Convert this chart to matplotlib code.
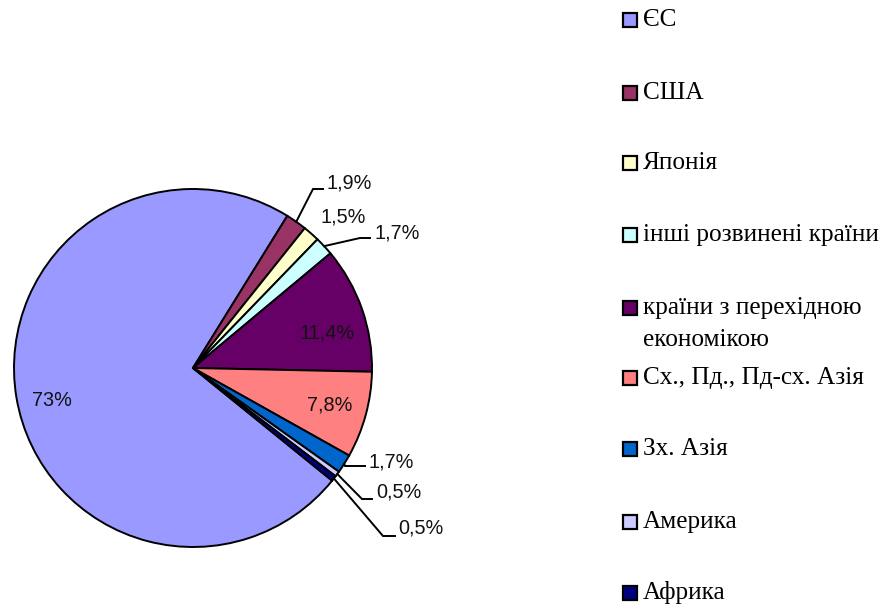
import matplotlib
matplotlib.use("Agg")
import matplotlib.pyplot as plt
from matplotlib.patches import Rectangle
import numpy as np

# ---- data ----
categories = ["ЄС", "США", "Японія", "інші розвинені країни",
              "країни з перехідною\nекономікою", "Сх., Пд., Пд-сх. Азія",
              "Зх. Азія", "Америка", "Африка"]
values = [73, 1.9, 1.5, 1.7, 11.4, 7.8, 1.7, 0.5, 0.5]
value_labels = ["73%", "1,9%", "1,5%", "1,7%", "11,4%", "7,8%", "1,7%", "0,5%", "0,5%"]
colors = ["#9999FF", "#993366", "#FFFFCC", "#CCFFFF", "#660066",
          "#FF8080", "#0066CC", "#CCCCFF", "#000080"]

# ---- layout (pixels) ----
W, H = 883, 607
cx, cy, R = 193, 368, 179
fig = plt.figure(figsize=(W / 100, H / 100), dpi=100)
ax = fig.add_axes([(cx - R) / W, (H - cy - R) / H, 2 * R / W, 2 * R / H])
ax.set_aspect("equal")
ax.axis("off")

wedges, _ = ax.pie(values, colors=colors, startangle=-39, counterclock=False,
                   radius=1.0, center=(0, 0),
                   wedgeprops=dict(edgecolor="black", linewidth=1.4))
ax.set_xlim(-1.0, 1.0)
ax.set_ylim(-1.0, 1.0)


def p2d(px, py):
    return ((px - cx) / R, (cy - py) / R)


# label placement: (x, y, ha, elbow, end) in pixels
label_style = [
    (52, 400, "center", None, None),
    (327, 183, "left", (313, 189), (323, 189)),
    (320, 217, "left", None, None),
    (374, 233, "left", (360, 238), (370, 238)),
    (327, 333, "center", None, None),
    (330, 405, "center", None, None),
    (369, 462, "left", (345, 466), (365, 466)),
    (376, 492, "left", (362, 499), (372, 499)),
    (398, 528, "left", (383, 536), (395, 536)),
]

for w, lab, (lx, ly, ha, elbow, end) in zip(wedges, value_labels, label_style):
    x, y = p2d(lx, ly)
    ax.text(x, y, lab, ha=ha, va="center", fontsize=14.3,
            family=["Liberation Sans", "DejaVu Sans"], color="#111111",
            clip_on=False)
    if elbow is not None:
        ang = np.deg2rad((w.theta1 + w.theta2) / 2)
        sx, sy = np.cos(ang), np.sin(ang)
        ex, ey = p2d(*elbow)
        fx, fy = p2d(*end)
        ax.plot([sx, ex, fx], [sy, ey, fy], color="black", lw=1.4,
                clip_on=False, solid_joinstyle="miter")

# ---- legend (manual) ----
legend_y = [20, 93, 163, 235, 308, 378, 449, 522, 593]
mx, msz, tx = 623, 14, 643
for cat, col, yy in zip(categories, colors, legend_y):
    fig.patches.append(Rectangle(((mx) / W, (H - yy - msz / 2) / H), msz / W, msz / H,
                                 transform=fig.transFigure, facecolor=col,
                                 edgecolor="black", linewidth=1.6))
    for i, line in enumerate(cat.split("\n")):
        fig.text(tx / W, (H - (yy + i * 32)) / H, line, ha="left", va="center",
                 fontsize=18.2, family=["Liberation Serif", "DejaVu Serif"],
                 color="black")

fig.savefig("out.png", dpi=100, facecolor="white")
